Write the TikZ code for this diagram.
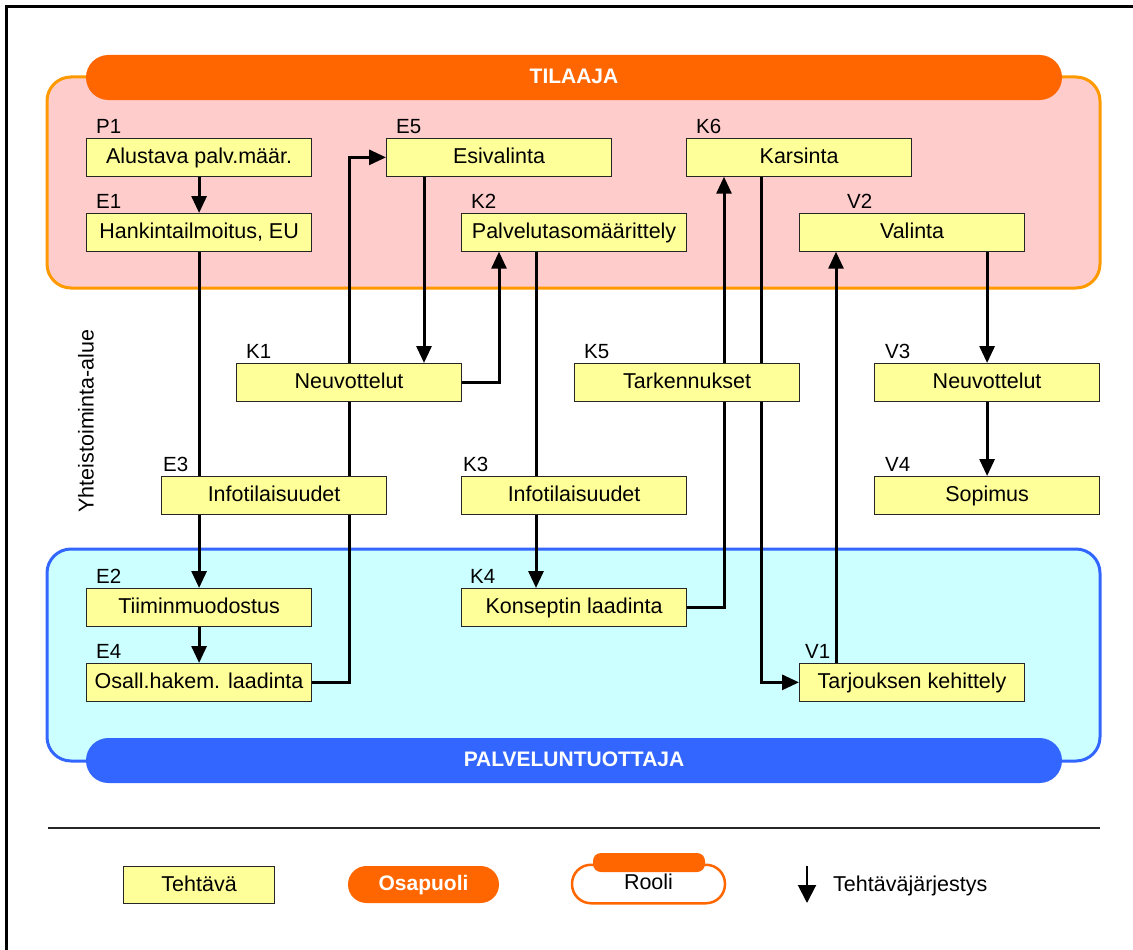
\documentclass[tikz,border=0pt]{standalone}
\usepackage{fontspec}
\setmainfont{Liberation Sans}
\usetikzlibrary{arrows.meta,calc}
\pgfdeclarelayer{back}
\pgfdeclarelayer{mid}
\pgfsetlayers{back,mid,main}

\definecolor{tilfill}{HTML}{FFCCCC}
\definecolor{tilline}{HTML}{FF9900}
\definecolor{tilbar}{HTML}{FF6600}
\definecolor{tuofill}{HTML}{CCFFFF}
\definecolor{tuoline}{HTML}{3366FF}
\definecolor{taskfill}{HTML}{FFFF99}

\newcommand{\dgboxfont}{\fontsize{21.5pt}{25pt}\selectfont}
\newcommand{\dgtagfont}{\fontsize{20.5pt}{24pt}\selectfont}
\newcommand{\dgtitlefont}{\fontsize{21pt}{25pt}\selectfont\bfseries}

\tikzset{
  task/.style={draw=black!85, line width=1.2pt, fill=taskfill,
    minimum width=225pt, minimum height=37.5pt, inner sep=0pt,
    anchor=north west, font=\dgboxfont, text height=15.5pt, text depth=3pt},
  tag/.style={anchor=base west, inner sep=0pt, font=\dgtagfont},
  flow/.style={line width=3pt, -{Triangle[length=17pt,width=15pt]}},
  region/.style={rounded corners=24pt, line width=3pt},
  bar/.style={minimum width=976pt, minimum height=45pt, inner sep=0pt,
    rounded corners=22.4pt, text=white, font=\dgtitlefont,
    text height=15pt, text depth=3pt},
}

\begin{document}
\begin{tikzpicture}[x=1pt,y=-1pt]
\useasboundingbox (0,0) rectangle (1133,950);

% task boxes
\node[task] (P1) at (86,138)  {Alustava palv.määr.};
\node[task] (E1) at (86,213)  {Hankintailmoitus, EU};
\node[task] (E5) at (386,138) {Esivalinta};
\node[task] (K6) at (686,138) {Karsinta};
\node[task] (K2) at (461,213) {Palvelutasomäärittely};
\node[task] (V2) at (799,213) {Valinta};
\node[task] (K1) at (236,363) {Neuvottelut};
\node[task] (K5) at (574,363) {Tarkennukset};
\node[task] (V3) at (874,363) {Neuvottelut};
\node[task] (E3) at (161,476) {Infotilaisuudet};
\node[task] (K3) at (461,476) {Infotilaisuudet};
\node[task] (V4) at (874,476) {Sopimus};
\node[task] (E2) at (86,588)  {Tiiminmuodostus};
\node[task] (K4) at (461,588) {Konseptin laadinta};
\node[task] (E4) at (86,663)  {Osall.hakem. laadinta};
\node[task] (V1) at (799,663) {Tarjouksen kehittely};

% task identifiers
\node[tag] (P1id) at ($(P1.north west)+(10,-5)$) {P1};
\node[tag] (E1id) at ($(E1.north west)+(10,-5)$) {E1};
\node[tag] (E5id) at ($(E5.north west)+(10,-5)$) {E5};
\node[tag] (K6id) at ($(K6.north west)+(10,-5)$) {K6};
\node[tag] (K2id) at ($(K2.north west)+(10,-5)$) {K2};
\node[tag] (V2id) at ($(V2.north west)+(48,-5)$) {V2};
\node[tag] (K1id) at ($(K1.north west)+(10,-5)$) {K1};
\node[tag] (K5id) at ($(K5.north west)+(10,-5)$) {K5};
\node[tag] (V3id) at ($(V3.north west)+(11,-5)$) {V3};
\node[tag] (E3id) at ($(E3.north west)+(2,-5)$)  {E3};
\node[tag] (K3id) at ($(K3.north west)+(2,-5)$)  {K3};
\node[tag] (V4id) at ($(V4.north west)+(11,-5)$) {V4};
\node[tag] (E2id) at ($(E2.north west)+(10,-5)$) {E2};
\node[tag] (K4id) at ($(K4.north west)+(9,-5)$) {K4};
\node[tag] (E4id) at ($(E4.north west)+(10,-5)$) {E4};
\node[tag] (V1id) at ($(V1.north west)+(6,-5)$)  {V1};

% side caption of the shared zone
\node[rotate=90, font=\dgboxfont, inner sep=0pt] (zone) at (86,421) {Yhteistoiminta-alue};

% roles
\begin{pgfonlayer}{back}
  \begin{scope}
    \clip (0,0) rectangle (1133,950);
    \draw[line width=2.5pt] (6.5,6.5) rectangle (1160,980);
  \end{scope}
  \draw[region, fill=tilfill, draw=tilline] (47,77) rectangle (1100,288);
  \node[bar, fill=tilbar] (tilaaja) at (574,77.5) {TILAAJA};
  \draw[region, fill=tuofill, draw=tuoline] (47,549) rectangle (1100,761);
  \node[bar, fill=tuoline] (tuottaja) at (574,760.5) {PALVELUNTUOTTAJA};
\end{pgfonlayer}

% task order
\begin{pgfonlayer}{mid}
  \draw[flow] (P1.south) -- (E1.north);
  \draw[flow] (E1.south) -- (E2.north);
  \draw[flow] (E2.south) -- (E4.north);
  \draw[flow] (E4.east) -- ++(37,0) |- (E5.west);
  \draw[flow] ([xshift=38pt]E5.south west) -- ([xshift=38pt]E5.south west |- K1.north);
  \draw[flow] (K1.east) -| ([xshift=38pt]K2.south west);
  \draw[flow] ([xshift=75pt]K2.south west) -- ([xshift=75pt]K2.south west |- K4.north);
  \draw[flow] (K4.east) -| ([xshift=38pt]K6.south west);
  \draw[flow] ([xshift=75pt]K6.south west) |- (V1.west);
  \draw[flow] ([xshift=37pt]V1.north west) -- ([xshift=37pt]V1.north west |- V2.south);
  \draw[flow] (V3.north |- V2.south) -- (V3.north);
  \draw[flow] (V3.south) -- (V4.north);
\end{pgfonlayer}

% legend
\coordinate (sepL) at (48,828);
\coordinate (sepR) at (1100,828);
\draw[line width=2pt, black!85] (sepL) -- (sepR);

\node[task, minimum width=151pt, minimum height=37pt] (legtask) at (123,866) {Tehtävä};
\node[minimum width=151pt, minimum height=37pt, inner sep=0pt, rounded corners=18.4pt,
  fill=tilbar, text=white, font=\dgtitlefont, text height=15pt, text depth=3pt]
  (legparty) at (423.5,884.5) {Osapuoli};
\node[minimum width=153pt, minimum height=38.5pt, inner sep=0pt, rounded corners=19pt,
  draw=tilbar, line width=2.5pt, fill=white, font=\dgboxfont, text height=14pt, text depth=3pt]
  (legrole) at (648.5,884) {Rooli};
\node[minimum width=112pt, minimum height=19pt, inner sep=0pt, rounded corners=8pt,
  fill=tilbar] (legtab) at (649,862.5) {};
\coordinate (ordtop) at (807,866);
\coordinate (ordbot) at (807,903);
\draw[line width=2pt, -{Triangle[length=18pt,width=18pt]}] (ordtop) -- (ordbot);
\node[anchor=base west, inner sep=0pt, font=\dgboxfont] (legorder) at (833,891) {Tehtäväjärjestys};
\end{tikzpicture}
\end{document}
